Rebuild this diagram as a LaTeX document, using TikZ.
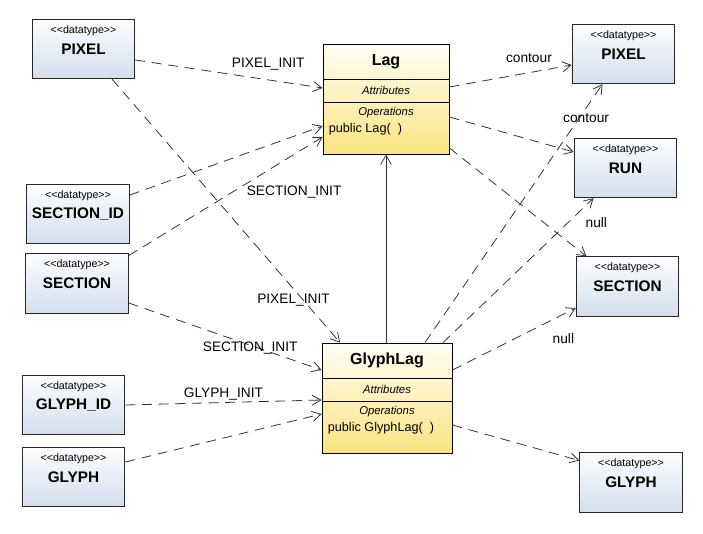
\documentclass[tikz,border=0pt]{standalone}
\usepackage{fontspec}
\setmainfont{Liberation Sans}
\usetikzlibrary{arrows.meta,positioning}

\definecolor{dtop}{RGB}{252,253,255}
\definecolor{dbot}{RGB}{212,222,238}
\definecolor{ctop}{RGB}{255,254,246}
\definecolor{cbot}{RGB}{250,228,128}

\begin{document}
\begin{tikzpicture}[x=0.75pt,y=-0.75pt,
  dtype/.style={draw=black!85, line width=0.65pt, top color=dtop, bottom color=dbot,
    minimum width=77pt, minimum height=44.5pt, inner sep=0pt,
    font=\fontsize{11.5}{13}\selectfont\bfseries,
    label={[anchor=north, yshift=-1.5pt, font=\fontsize{8}{9}\selectfont]north:<{}<datatype>{}>}},
  cls/.style={draw, line width=0.65pt, top color=ctop, bottom color=cbot,
    minimum height=82.5pt, inner sep=0pt},
  cname/.style={font=\fontsize{12}{14}\selectfont\bfseries},
  sect/.style={font=\fontsize{8.5}{10}\selectfont\itshape},
  oper/.style={anchor=west, inner sep=0pt, font=\fontsize{9.5}{11}\selectfont},
  dep/.style={draw=black!80, line width=0.6pt, dash pattern=on 7.5pt off 5pt,
    -{Straight Barb[length=6.5pt,width=7.5pt]}},
  lbl/.style={font=\fontsize{10.3}{12}\selectfont, inner sep=1pt}]
  \useasboundingbox (0,0) rectangle (703,533);

  % datatypes
  \node[dtype] (pixA) at (83.5,49) {PIXEL};
  \node[dtype] (secid) at (78,214) {SECTION\_ID};
  \node[dtype] (sec) at (77,283.5) {SECTION};
  \node[dtype] (glyphid) at (73.5,405) {GLYPH\_ID};
  \node[dtype] (glyphB) at (73.5,477) {GLYPH};
  \node[dtype] (pixB) at (623.5,54) {PIXEL};
  \node[dtype] (run) at (625.5,168) {RUN};
  \node[dtype] (secB) at (627.5,286.5) {SECTION};
  \node[dtype] (glyphC) at (631,482.5) {GLYPH};

  % classes
  \node[cls, minimum width=94.5pt] (lag) at (386,99) {};
  \node[cls, minimum width=97.5pt] (glyph) at (387,398) {};
  \foreach \c/\t in {lag/Lag, glyph/GlyphLag} {
    \draw[line width=0.65pt] ([yshift=-27pt]\c.north west) -- ([yshift=-27pt]\c.north east);
    \draw[line width=0.65pt] ([yshift=-44.25pt]\c.north west) -- ([yshift=-44.25pt]\c.north east);
    \node[cname] (\c-name) at ([yshift=-13.5pt]\c.north) {\t};
    \node[sect] (\c-attr) at ([yshift=-35pt]\c.north) {Attributes};
    \node[sect] (\c-ops) at ([yshift=-52pt]\c.north) {Operations};
    \node[oper] (\c-op) at ([xshift=4.5pt,yshift=-64.5pt]\c.north west) {public \t(\ \ )};
  }

  % dependencies
  \draw[dep] ([shift={(0,11)}]pixA.east) -- node[lbl, pos=.71, above=6pt] {PIXEL\_INIT} ([shift={(0,-11)}]lag.west);
  \draw[dep] ([shift={(28.5,0)}]pixA.south) -- node[lbl, pos=.84, xshift=-7.5pt] {PIXEL\_INIT} ([shift={(-47,0)}]glyph.north);
  \draw[dep] ([shift={(0,-19)}]secid.east) -- ([shift={(0,27)}]lag.west);
  \draw[dep] ([shift={(0,-28)}]sec.east) -- node[lbl, pos=.6, anchor=north west] {SECTION\_INIT} ([shift={(0,38)}]lag.west);
  \draw[dep] ([shift={(0,19.5)}]sec.east) -- node[lbl, pos=.63, yshift=-2pt] {SECTION\_INIT} ([shift={(0,-28)}]glyph.west);
  \draw[dep] (glyphid.east) -- node[lbl, pos=.5, above=0.5pt] {GLYPH\_INIT} ([shift={(0,2)}]glyph.west);
  \draw[dep] ([shift={(0,-15)}]glyphB.east) -- ([shift={(0,16)}]glyph.west);
  \draw[dep] ([shift={(0,-12)}]lag.east) -- node[lbl, pos=.65, above=6pt] {contour} ([shift={(0,11)}]pixB.west);
  \draw[dep] ([shift={(0,18)}]lag.east) -- ([shift={(0,-16)}]run.west);
  \draw[dep] ([shift={(0,49)}]lag.east) -- ([shift={(-41,0)}]secB.north);
  \draw[dep] ([shift={(38,0)}]glyph.north) -- node[lbl, pos=.87, xshift=5pt] {contour} ([shift={(-21,0)}]pixB.south);
  \draw[dep] ([shift={(56,0)}]glyph.north) -- node[lbl, pos=.83, right=12pt] {null} ([shift={(-32,0)}]run.south);
  \draw[dep] ([shift={(0,-28)}]glyph.east) -- node[lbl, pos=.9, below=13pt] {null} ([shift={(0,21.5)}]secB.west);
  \draw[dep] ([shift={(0,27)}]glyph.east) -- ([shift={(0,-22)}]glyphC.west);

  % generalization
  \draw[draw=black!80, line width=0.6pt, -{Straight Barb[length=7pt,width=8pt]}] (lag.south |- glyph.north) -- (lag.south);
\end{tikzpicture}
\end{document}
